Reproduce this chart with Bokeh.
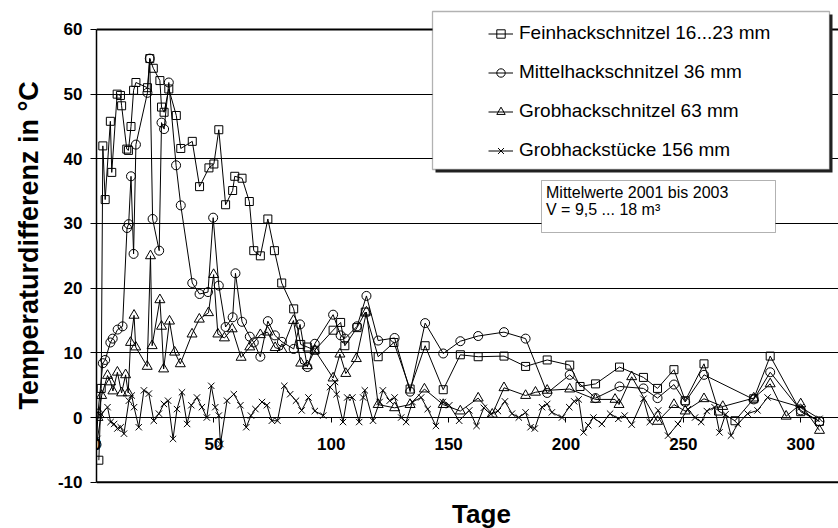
import math
from bokeh.plotting import figure
from bokeh.models import (Range1d, FixedTicker, Legend, LegendItem, BoxAnnotation,
                          Label, Span, Title)
from bokeh.embed import file_html
from bokeh.resources import INLINE

# ---------------- data ----------------
fein_day = [1, 2, 2.7, 3.7, 5.9, 6.5, 8.8, 10.2, 10.7, 12.9, 13.6, 14.7, 15.8, 16.8,
            21.7, 22.7, 24.2, 27, 27.7, 28.8, 30.8, 34, 35.9, 40.8, 43.9, 47.9, 50,
            52.1, 55, 58, 58.9, 62, 65.1, 67, 69.8, 73, 75.8, 78.9, 84, 87, 89.8, 93,
            100.8, 104, 105.8, 111, 114.5, 120, 126.7, 133.6, 140, 147.7, 155, 162.6,
            173.6, 182.8, 192, 201.6, 206, 212.6, 222.8, 233, 239, 246, 250.8, 258.8,
            265, 272, 280, 287, 300, 308]
fein_val = [-6.6, 4.5, 42.0, 33.7, 45.8, 37.9, 50.0, 49.8, 48.2, 41.5, 41.3, 45.0, 50.6, 51.8,
            51.0, 55.5, 54.0, 52.1, 48.0, 47.2, 50.8, 46.7, 41.6, 42.7, 35.7, 38.6, 39.2,
            44.5, 32.9, 35.1, 37.3, 37.0, 33.4, 25.8, 25.0, 30.7, 25.8, 20.8, 16.8, 11.3, 10.9, 10.4,
            13.5, 14.7, 11.1, 13.9, 16.3, 9.4, 11.6, 4.4, 11.1, 4.3, 9.7, 9.4,
            9.5, 7.9, 8.9, 8.1, 4.8, 5.2, 7.8, 6.2, 4.5, 7.4, 2.6, 8.3,
            1.0, -0.5, 2.9, 9.5, 0.9, -0.6]

mittel_day = [0, 0.6, 2.7, 3.7, 5.9, 6.9, 9, 11.1, 13, 13.7, 14.7, 15.8, 16.8, 21.7, 22.7,
              23.9, 26.7, 27.7, 28.8, 30.8, 33.9, 35.9, 40.8, 43.9, 47.5, 49.7, 52.1, 55,
              58, 59.2, 62, 65.3, 67, 69.8, 73, 76, 79, 84, 86.7, 89.8, 93, 100.8, 104,
              105.8, 111, 115, 120, 127, 133.6, 140, 147.7, 155, 162.6, 173.6, 182.8, 192,
              201.6, 212.6, 222.8, 233, 239, 246, 250.8, 258.8, 280, 287, 300, 308]
mittel_val = [-4.2, 0.6, 8.4, 8.9, 11.6, 12.2, 13.6, 14.1, 29.3, 29.9, 37.3, 25.3, 42.2, 50.2, 55.5,
              30.7, 25.8, 45.6, 44.6, 51.8, 39.0, 32.8, 20.8, 19.1, 19.4, 30.9, 20.4, 14.0,
              15.5, 22.3, 14.8, 12.5, 11.6, 9.4, 14.9, 12.7, 11.7, 10.6, 14.4, 7.8, 11.4, 15.9, 12.7,
              12.2, 14.1, 18.8, 11.9, 12.3, 4.0, 14.6, 9.9, 11.8, 12.6, 13.2, 12.2, 3.8,
              6.6, 3.0, 4.8, 4.5, 3.0, 5.1, 2.4, 6.6, 2.8, 7.0, 1.1, -0.6]

grob_day = [0.6, 2.2, 4.7, 6, 7, 8.9, 10.7, 12.4, 13.5, 14.5, 16, 16.7, 21.6, 23, 23.7, 27,
            27.7, 28.6, 31.1, 33.3, 35.7, 40.7, 43.8, 47.7, 49.9, 51.7, 54.5, 57.8, 61.6,
            65.3, 69.8, 72.9, 76.1, 79, 83.9, 87, 89.8, 93, 100.8, 103.7, 106.2, 110.7, 115,
            120, 127, 133.6, 139.7, 147.7, 155, 162.6, 168.6, 173.6, 182.8, 187, 192, 201.6,
            212.6, 220.9, 222.6, 228, 239, 246, 250.8, 258.8, 266.8, 280, 287, 293.8,
            300, 308]
grob_val = [0.0, 3.4, 6.5, 5.5, 4.1, 7.0, 3.8, 6.6, 3.8, 11.6, 15.8, 10.9, 7.9, 25.0, 11.1, 18.2,
            14.1, 7.5, 14.9, 10.1, 8.3, 12.9, 15.2, 16.2, 22.1, 12.9, 12.3, 13.7, 9.3,
            10.9, 12.8, 13.2, 10.8, 10.5, 15.0, 8.4, 8.0, 10.4, 6.1, 9.8, 6.8, 9.1, 16.3,
            2.0, 1.5, 2.0, 4.4, 2.0, 1.0, 3.0, 0.5, 4.6, 3.4, 3.9, 4.2, 4.4,
            2.8, 2.8, 2.0, 6.3, -0.6, 2.0, 1.0, 2.9, 1.7, 3.0, 5.2, 0.2,
            2.1, -2.0]

stueck_day = [0.4, 2.0, 4.7, 6.0, 7.5, 8.9, 10.3, 11.7, 13.8, 15.0, 16.0, 18.0, 20.2, 22.3,
              24.4, 26.6, 28.7, 30.5, 32.6, 34.3, 36.4, 38.6, 40.4, 42.8, 44.9, 47.0, 48.9,
              50.6, 52.1, 52.8, 55.6, 58.5, 61.3, 63.8, 65.8, 67.7, 70.5, 72.6, 74.7, 77.1,
              80.0, 82.5, 85.0, 87.4, 90.3, 93.0, 96.6, 99.5, 101.6, 102.3, 105.0, 106.8,
              109.0, 111.9, 113.6, 114.3, 117.8, 120.6, 122.0, 124.9, 127.0, 129.8, 131.9,
              134.6, 138.3, 141.1, 144.6, 147.5, 150.3, 154.5, 158.8, 161.9, 165.0, 168.0,
              171.0, 174.0, 177.0, 179.9, 182.8, 184.9, 186.7, 189.8, 192.0, 194.0, 198.3,
              201.4, 203.5, 205.4, 207.5, 209.5, 211.7, 215.3, 218.8, 222.3, 225.0, 228.0,
              233.0, 235.7, 239.3, 243.5, 247.7, 252.0, 255.0, 257.6, 260.0, 263.3, 265.4,
              268.0, 270.3, 273.2, 277.4, 281.6, 285.9, 300.0, 308.0]
stueck_val = [-3.3, 0.5, 1.6, -0.7, -1.0, -1.7, -1.5, -2.5, 2.6, 3.4, 1.6, -1.5, 4.2, 3.7,
              -0.5, 0.6, 2.1, 2.6, -3.3, 1.3, 3.9, -1.0, 1.9, 3.1, 1.6, 0.0, 4.9,
              1.6, 0.3, -4.1, 2.6, 3.6, 1.9, -1.5, 0.3, 1.3, 2.4, 1.9, -0.5, -0.5,
              4.9, 3.6, 2.6, 1.1, 3.1, 1.0, 0.3, 4.7, 5.5, 3.6, -0.7, 3.1,
              3.1, -0.7, 3.1, 4.2, -0.5, 2.4, 4.2, 2.6, 3.1, 0.0, -0.7,
              2.4, 3.1, 1.3, -1.3, 2.4, 1.9, -0.5, 1.1, -1.3, 1.5, 0.5,
              1.0, 2.5, 0.6, 0.0, 0.8, -1.5, -1.7, 1.6, 2.1, 0.8, 0.0,
              1.6, 2.5, 2.8, -2.3, -1.2, 0.0, -1.0, 0.6, -0.2, 0.3, -1.1,
              2.9, -0.7, 1.1, -2.8, -1.0, 1.3, 0.0, -0.7, 1.0, 1.6, -2.3,
              0.5, -2.8, -1.0, 0.6, 1.1, 3.1, 1.6, -0.2]

series_labels = ["Feinhackschnitzel 16...23 mm", "Mittelhackschnitzel 36 mm",
                 "Grobhackschnitzel 63 mm", "Grobhackstücke 156 mm"]
series_markers = ["square", "circle", "triangle", "x"]
series_sizes = [8, 9, 10, 9]

X_TICKS = [0, 50, 100, 150, 200, 250, 300]
Y_TICKS = [-10, 0, 10, 20, 30, 40, 50, 60]
X_MIN, X_MAX = 0, 316.1
Y_MIN, Y_MAX = -10, 60
# visible window (plot frame fills the canvas height; axis spans -10..60)
Y_VIEW = (-17.16, 64.48)

FONT = "Liberation Sans"

# ---------------- figure ----------------
p = figure(width=838, height=528, output_backend="svg", toolbar_location=None,
           x_range=Range1d(X_MIN, X_MAX), y_range=Range1d(*Y_VIEW),
           min_border_left=92, min_border_right=0, min_border_top=0,
           min_border_bottom=0)
p.outline_line_color = None
p.background_fill_color = "white"
p.border_fill_color = "white"

p.xgrid.grid_line_color = None
p.ygrid.ticker = FixedTicker(ticks=Y_TICKS)
p.ygrid.grid_line_color = "black"
p.ygrid.grid_line_width = 1

# y axis
ya = p.yaxis[0]
ya.bounds = (Y_MIN, Y_MAX)
ya.ticker = FixedTicker(ticks=Y_TICKS)
ya.major_label_overrides = {t: str(t) for t in Y_TICKS}
ya.axis_line_color = "black"
ya.axis_line_width = 1.5
ya.major_tick_line_color = "black"
ya.major_tick_out = 6
ya.major_tick_in = 0
ya.minor_tick_line_color = None
ya.major_label_text_font = FONT
ya.major_label_text_font_size = "17px"
ya.major_label_text_font_style = "bold"
ya.major_label_text_color = "black"
ya.major_label_standoff = 8

# x axis drawn at y = 0
xa = p.xaxis[0]
xa.fixed_location = 0
xa.ticker = FixedTicker(ticks=X_TICKS)
xa.major_label_overrides = {t: str(t) for t in X_TICKS}
xa.axis_line_color = "black"
xa.axis_line_width = 1
xa.major_tick_line_color = "black"
xa.major_tick_out = 5
xa.major_tick_in = 0
xa.minor_tick_line_color = None
xa.major_label_text_font = FONT
xa.major_label_text_font_size = "17px"
xa.major_label_text_font_style = "bold"
xa.major_label_text_color = "black"
xa.major_label_standoff = 15

# plot area top / bottom borders
p.add_layout(Span(location=Y_MAX, dimension="width", line_color="black", line_width=2))
p.add_layout(Span(location=Y_MIN, dimension="width", line_color="black", line_width=2))

# y axis title (rotated, in left panel)
p.add_layout(Title(text="Temperaturdifferenz in °C", align="left", offset=119,
                   text_font=FONT, text_font_size="27px", text_font_style="bold",
                   text_color="black", standoff=22), "left")

# ---------------- series ----------------
data = [(fein_day, fein_val), (mittel_day, mittel_val), (grob_day, grob_val),
        (stueck_day, stueck_val)]
items = []
for (d, v), lab, mk, sz in zip(data, series_labels, series_markers, series_sizes):
    ln = p.line(d, v, line_color="black", line_width=1)
    sc = p.scatter(d, v, marker=mk, size=sz, line_color="black", fill_color=None,
                   line_width=1)
    items.append(LegendItem(label=lab, renderers=[ln, sc]))

# ---------------- legend box ----------------
def screen_box(left, right, top, bottom, **kw):
    return BoxAnnotation(left=left, right=right, top=top, bottom=bottom,
                         left_units="screen", right_units="screen",
                         top_units="screen", bottom_units="screen", **kw)

p.add_layout(screen_box(339, 736, 514, 356, fill_color="#222222", fill_alpha=1,
                        line_color=None))
p.add_layout(screen_box(336, 733, 517, 359, fill_color="white", fill_alpha=1,
                        line_color="black", line_width=1.3))

legend = Legend(items=items, location=(392, 367), padding=10, spacing=17,
                glyph_width=25, glyph_height=21, label_height=21, label_standoff=6,
                label_text_font=FONT, label_text_font_size="19px",
                label_text_color="black", border_line_color=None,
                background_fill_alpha=0, margin=0)
p.add_layout(legend, "center")

# ---------------- note box ----------------
p.add_layout(screen_box(445, 679, 348, 296, fill_color="white", fill_alpha=1,
                        line_color="black", line_width=1))
p.add_layout(Label(x=449.5, y=336.5, x_units="screen", y_units="screen",
                   text="Mittelwerte 2001 bis 2003", text_font=FONT,
                   text_font_size="16px", text_color="black",
                   text_baseline="alphabetic"))
p.add_layout(Label(x=449.5, y=319.5, x_units="screen", y_units="screen",
                   text="V = 9,5 ... 18 m³", text_font=FONT,
                   text_font_size="16px", text_color="black",
                   text_baseline="alphabetic"))

# ---------------- x axis title ----------------
p.add_layout(Label(x=385, y=14.5, x_units="screen", y_units="screen",
                   text="Tage", text_font=FONT, text_font_size="26px",
                   text_font_style="bold", text_color="black",
                   text_align="center", text_baseline="alphabetic"))

open("out.html", "w").write(file_html(p, INLINE))
